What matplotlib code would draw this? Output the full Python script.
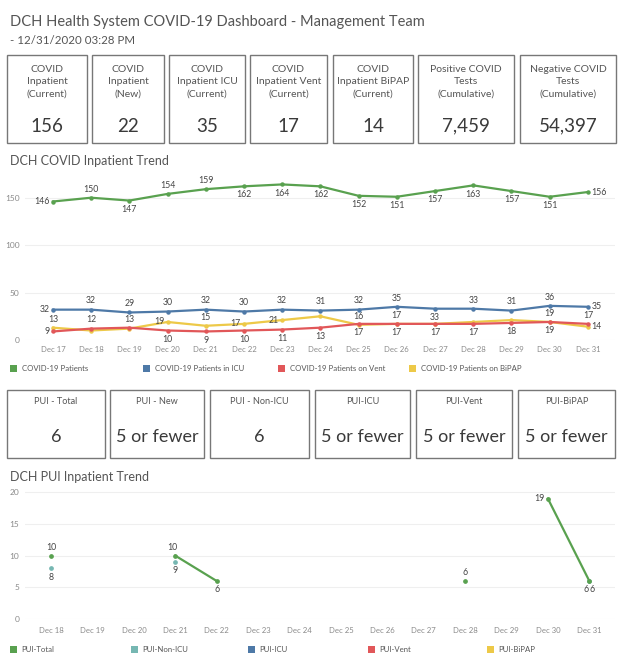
import numpy as np
import matplotlib
matplotlib.use("Agg")
import matplotlib.pyplot as plt
from matplotlib.patches import Rectangle

plt.rcParams['font.family'] = ['Lato', 'DejaVu Sans']

# ---------------- data ----------------
kpi_titles = ["COVID\nInpatient\n(Current)", "COVID\nInpatient\n(New)", "COVID\nInpatient ICU\n(Current)",
              "COVID\nInpatient Vent\n(Current)", "COVID\nInpatient BiPAP\n(Current)",
              "Positive COVID\nTests\n(Cumulative)", "Negative COVID\nTests\n(Cumulative)"]
kpi_values = ["156", "22", "35", "17", "14", "7,459", "54,397"]

pui_titles = ["PUI - Total", "PUI - New", "PUI - Non-ICU", "PUI-ICU", "PUI-Vent", "PUI-BiPAP"]
pui_values = ["6", "5 or fewer", "6", "5 or fewer", "5 or fewer", "5 or fewer"]

days1 = ["Dec 17", "Dec 18", "Dec 19", "Dec 20", "Dec 21", "Dec 22", "Dec 23", "Dec 24",
         "Dec 25", "Dec 26", "Dec 27", "Dec 28", "Dec 29", "Dec 30", "Dec 31"]
covid_patients = [146, 150, 147, 154, 159, 162, 164, 162, 152, 151, 157, 163, 157, 151, 156]
covid_icu = [32, 32, 29, 30, 32, 30, 32, 31, 32, 35, 33, 33, 31, 36, 35]
covid_vent = [9, 12, 13, 10, 9, 10, 11, 13, 17, 17, 17, 17, 18, 19, 17]
covid_bipap = [13, 10, 12, 19, 15, 17, 21, 25, 16, 17, 17, 19, 21, 19, 14]
series1_names = ["COVID-19 Patients", "COVID-19 Patients in ICU", "COVID-19 Patients on Vent",
                 "COVID-19 Patients on BiPAP"]

days2 = ["Dec 18", "Dec 19", "Dec 20", "Dec 21", "Dec 22", "Dec 23", "Dec 24", "Dec 25",
         "Dec 26", "Dec 27", "Dec 28", "Dec 29", "Dec 30", "Dec 31"]
pui_total = [10, None, None, 10, 6, None, None, None, None, None, 6, None, 19, 6]
pui_non_icu = [8, None, None, 9, None, None, None, None, None, None, None, None, None, 6]
series2_names = ["PUI-Total", "PUI-Non-ICU", "PUI-ICU", "PUI-Vent", "PUI-BiPAP"]

# label placement (style only)
lab_green = ['l', 'a', 'b', 'a', 'a', 'b', 'b', 'b', 'b', 'b', 'b', 'b', 'b', 'b', 'r']
lab_blue = ['l', 'a', 'a', 'a', 'a', 'a', 'a', 'a', 'a', 'a', 'b', 'a', 'a', 'a', 'r']
lab_red = ['l', 'a', 'a', 'b', 'b', 'b', 'b', 'b', 'b', 'b', 'b', 'b', 'b', 'b', 'a']
lab_yel = ['a', None, None, 'l', 'a', 'l', 'l', None, 'a', 'a', None, None, None, 'a', 'r']
lab_pt = ['a', None, None, 'al', 'b', None, None, None, None, None, 'a', None, 'l', 'bl']
lab_pn = ['b', None, None, 'b', None, None, None, None, None, None, None, None, None, 'br']

GREEN = '#59A14F'
BLUE = '#4E79A7'
RED = '#E15759'
YELLOW = '#EDC948'
TEAL = '#76B7B2'
TXT = '#555555'
LBL = '#444444'
TICK = '#8a8a8a'

W, H = 624, 661
fig = plt.figure(figsize=(W / 100, H / 100), dpi=100)
fig.patch.set_facecolor('white')

ov = fig.add_axes([0, 0, 1, 1])
ov.set_xlim(0, W)
ov.set_ylim(H, 0)
ov.axis('off')


def px_axes(x0, y0, x1, y1):
    return fig.add_axes([x0 / W, 1 - y1 / H, (x1 - x0) / W, (y1 - y0) / H])


# header
ov.text(10, 22, "DCH Health System COVID-19 Dashboard - Management Team", fontsize=10.5,
        color=TXT, va='center', ha='left')
ov.text(10, 40, "- 12/31/2020 03:28 PM", fontsize=8.3, color=TXT, va='center', ha='left')

# KPI boxes
kpi_x = [(7, 87), (92, 164), (169, 245), (250, 327), (333, 413), (418, 514), (520, 616)]
for (x0, x1), t, v in zip(kpi_x, kpi_titles, kpi_values):
    ov.add_patch(Rectangle((x0, 55), x1 - x0, 88, fill=False, ec='#777777', lw=1.0))
    cx = (x0 + x1) / 2
    ov.text(cx, 82, t, fontsize=7.5, color=TXT, ha='center', va='center', linespacing=1.5)
    ov.text(cx, 126, v, fontsize=13.5, color='#3a3a3a', ha='center', va='center')

# PUI boxes
pui_x = [(7, 105), (110, 204), (210, 309), (315, 410), (416, 512), (518, 615)]
for (x0, x1), t, v in zip(pui_x, pui_titles, pui_values):
    ov.add_patch(Rectangle((x0, 390), x1 - x0, 68, fill=False, ec='#777777', lw=1.0))
    cx = (x0 + x1) / 2
    ov.text(cx, 402, t, fontsize=6.6, color=TXT, ha='center', va='center')
    ov.text(cx, 437, v, fontsize=13, color='#3a3a3a', ha='center', va='center')

# chart titles
ov.text(10, 161, "DCH COVID Inpatient Trend", fontsize=9.0, color=TXT, va='center', ha='left')
ov.text(10, 477, "DCH PUI Inpatient Trend", fontsize=9.0, color=TXT, va='center', ha='left')

# legends
leg1 = [(10, GREEN), (143, BLUE), (278, RED), (409, YELLOW)]
for (x, c), name in zip(leg1, series1_names):
    ov.add_patch(Rectangle((x, 365), 7, 7, color=c, lw=0))
    ov.text(x + 12, 368.5, name, fontsize=5.6, color=TXT, va='center', ha='left')
leg2 = [(10, GREEN), (131, TEAL), (248, BLUE), (368, RED), (487, YELLOW)]
for (x, c), name in zip(leg2, series2_names):
    ov.add_patch(Rectangle((x, 646), 7, 7, color=c, lw=0))
    ov.text(x + 11, 649.5, name, fontsize=5.6, color=TXT, va='center', ha='left')


def style_axes(ax, yticks):
    ax.set_facecolor('none')
    for s in ax.spines.values():
        s.set_visible(False)
    ax.set_yticks(yticks)
    ax.grid(axis='y', color='#efefef', lw=0.8)
    ax.set_axisbelow(True)
    ax.tick_params(length=0, labelsize=5.6, labelcolor=TICK)
    ax.tick_params(axis='y', labelsize=6.0)


def put_label(ax, x, y, pos, text, fs=6.3):
    if pos is None:
        return
    offs = {'a': ((0, 3), 'center', 'bottom'), 'b': ((0, -3), 'center', 'top'),
            'l': ((-2.5, 0), 'right', 'center'), 'r': ((2.5, 0), 'left', 'center'),
            'al': ((-2, 3), 'center', 'bottom'), 'bl': ((-2, -3), 'center', 'top'),
            'br': ((2, -3), 'center', 'top')}
    (dx, dy), ha, va = offs[pos]
    ax.annotate(text, (x, y), xytext=(dx, dy), textcoords='offset points', ha=ha, va=va,
                fontsize=fs, color=LBL)


# chart 1
ax1 = px_axes(25, 174, 615, 340)
style_axes(ax1, [0, 50, 100, 150])
x1 = np.arange(len(days1))
for vals, col, labs in [(covid_bipap, YELLOW, lab_yel), (covid_vent, RED, lab_red),
                        (covid_icu, BLUE, lab_blue), (covid_patients, GREEN, lab_green)]:
    ax1.plot(x1, vals, color=col, lw=1.6, marker='o', ms=2.2, zorder=3)
    for xi, v, p in zip(x1, vals, labs):
        put_label(ax1, xi, v, p, str(v))
ax1.set_xlim(-0.73, 14.71)
ax1.set_ylim(0, 175)
ax1.set_xticks(x1)
ax1.set_xticklabels(days1)
ax1.tick_params(axis='x', pad=4)
ax1.tick_params(axis='y', pad=4)

# chart 2
ax2 = px_axes(25, 486, 615, 619)
style_axes(ax2, [0, 5, 10, 15, 20])
x2 = np.arange(len(days2))
for vals, col, labs in [(pui_non_icu, TEAL, lab_pn), (pui_total, GREEN, lab_pt)]:
    arr = np.array([np.nan if v is None else v for v in vals], dtype=float)
    ax2.plot(x2, arr, color=col, lw=1.6, marker='o', ms=2.4, zorder=3)
    for xi, v, p in zip(x2, vals, labs):
        if v is not None:
            put_label(ax2, xi, v, p, str(v))
ax2.set_xlim(-0.63, 13.62)
ax2.set_ylim(0, 21)
ax2.set_xticks(x2)
ax2.set_xticklabels(days2)
ax2.tick_params(axis='x', pad=6)
ax2.tick_params(axis='y', pad=4)

fig.savefig('out.png', dpi=100, facecolor='white')
